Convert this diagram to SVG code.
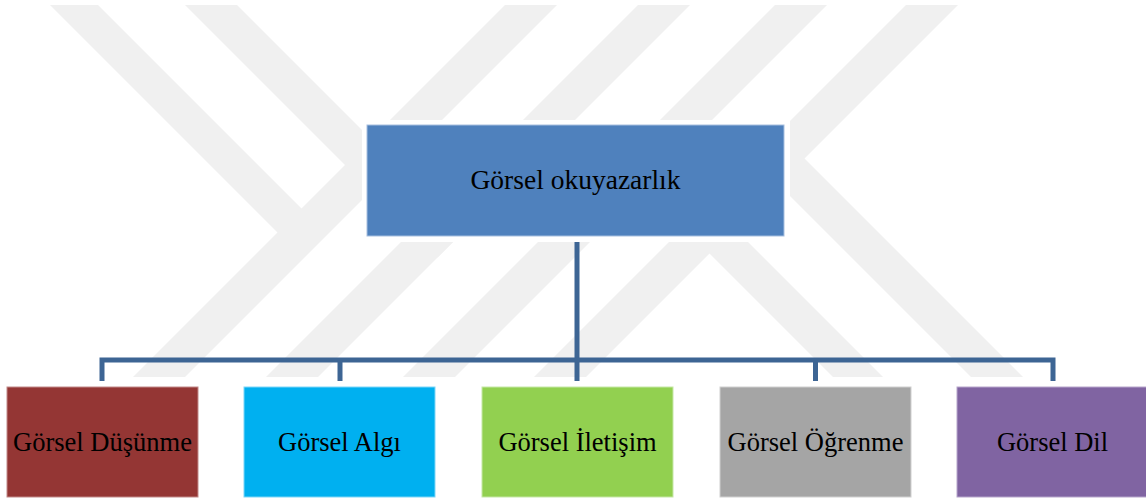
<svg xmlns="http://www.w3.org/2000/svg" width="1146" height="500" viewBox="0 0 1146 500">
  <style>
    .wm { fill: #f0f0f0; }
    .conn { fill: none; stroke: #3d6594; stroke-width: 5; stroke-linejoin: miter; stroke-linecap: butt; }
    .lbl { font-family: "Liberation Serif", "Times New Roman", serif; font-size: 26.5px; fill: #000000; text-anchor: middle; }
    .lbl-root { font-size: 27.5px; }
  </style>
  <defs>
    <clipPath id="wmclip">
      <rect x="0" y="5" width="1146" height="372"/>
    </clipPath>
  </defs>
  <rect x="0" y="0" width="1146" height="500" fill="#ffffff"/>

  <g id="watermark" clip-path="url(#wmclip)">
    <polygon class="wm" points="50,5 98,5 326.5,233.5 302.5,257.5"/>
    <polygon class="wm" points="505,5 557,5 185,377 133,377"/>
    <polygon class="wm" points="185,5 237,5 463.5,231.5 437.5,257.5"/>
    <polygon class="wm" points="638,5 690,5 318,377 266,377"/>
    <polygon class="wm" points="775,5 827,5 455,377 403,377"/>
    <polygon class="wm" points="906,5 958,5 586,377 534,377"/>
    <polygon class="wm" points="778.5,132.5 1023,377 971,377 752.5,158.5"/>
    <polygon class="wm" points="708.5,202.5 883,377 833,377 683.5,227.5"/>
  </g>
  <rect x="362" y="120" width="428" height="122" fill="#ffffff"/>

  <g id="connectors">
    <line class="conn" x1="577" y1="242" x2="577" y2="381"/>
    <path class="conn" d="M102,381 V360 H1053 V381"/>
    <line class="conn" x1="340" y1="360" x2="340" y2="381"/>
    <line class="conn" x1="815.5" y1="360" x2="815.5" y2="381"/>
  </g>

  <g id="node-root">
    <rect x="367" y="125" width="417" height="111" fill="#4f81bd" stroke="#a7bfdf" stroke-width="1"/>
    <text class="lbl lbl-root" x="575.5" y="189">Görsel okuyazarlık</text>
  </g>
  <g id="node-dusunme">
    <rect x="7" y="387" width="191" height="110" fill="#943634" stroke="#c28a89" stroke-width="1"/>
    <text class="lbl" x="102.5" y="451">Görsel Düşünme</text>
  </g>
  <g id="node-algi">
    <rect x="244" y="387" width="191" height="110" fill="#00b0f0" stroke="#7fd6f7" stroke-width="1"/>
    <text class="lbl" x="339.5" y="451">Görsel Algı</text>
  </g>
  <g id="node-iletisim">
    <rect x="482" y="387" width="191" height="110" fill="#92d050" stroke="#c6e7a6" stroke-width="1"/>
    <text class="lbl" x="577.5" y="451">Görsel İletişim</text>
  </g>
  <g id="node-ogrenme">
    <rect x="720" y="387" width="191" height="110" fill="#a5a5a5" stroke="#d0d0d0" stroke-width="1"/>
    <text class="lbl" x="815.5" y="451">Görsel Öğrenme</text>
  </g>
  <g id="node-dil">
    <rect x="957" y="387" width="191" height="110" fill="#8064a2" stroke="#b7a6cc" stroke-width="1"/>
    <text class="lbl" x="1052.5" y="451">Görsel Dil</text>
  </g>
</svg>
